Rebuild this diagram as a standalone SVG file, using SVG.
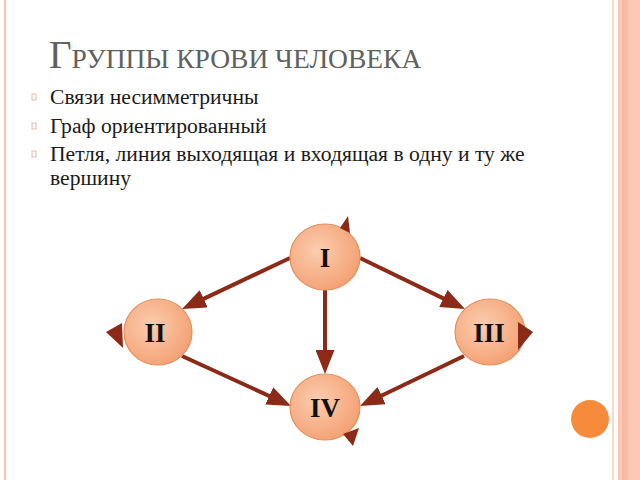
<svg xmlns="http://www.w3.org/2000/svg" width="640" height="480" viewBox="0 0 640 480">
<defs>
<style>
.title{font-family:"Liberation Serif","Times New Roman",serif;fill:#606060}
.bul{font-family:"Liberation Serif","Times New Roman",serif;font-size:21.6px;fill:#1a1a1a}
.box{fill:none;stroke:#d8aaa0;stroke-width:0.8}
.node{fill:url(#ng);stroke:#e0915f;stroke-width:1.2}
.lbl{font-family:"Liberation Serif","Times New Roman",serif;font-size:27px;font-weight:bold;fill:#111;text-anchor:middle}
.edge{stroke:#8b2a16;stroke-width:4;fill:none;marker-end:url(#ah)}
.loop{fill:#8b2a16}
</style>
<radialGradient id="ng" cx="0.4" cy="0.4" r="0.65">
<stop offset="0" stop-color="#fbcdb0"/>
<stop offset="1" stop-color="#f4a072"/>
</radialGradient>
<marker id="ah" viewBox="0 0 24 19" refX="9" refY="9.5" markerWidth="24" markerHeight="19" markerUnits="userSpaceOnUse" orient="auto">
<path d="M0,0 L24,9.5 L0,19 z" fill="#8b2a16"/>
</marker>
</defs>
<rect width="640" height="480" fill="#ffffff"/>
<g id="frame">
<line x1="5" y1="0" x2="5" y2="480" stroke="#f6c6b6" stroke-width="2.5"/>
<line x1="613" y1="0" x2="613" y2="480" stroke="#f9cbbd" stroke-width="1.5"/>
<rect x="618" y="0" width="22" height="480" fill="#fcc8b5"/>
<rect x="622" y="0" width="6" height="480" fill="#f9baa2"/>
<circle cx="590" cy="419" r="19" fill="#f68b3c"/>
</g>
<g id="title">
<text class="title" x="49" y="68"><tspan font-size="39">Г</tspan><tspan font-size="27.5">РУППЫ КРОВИ ЧЕЛОВЕКА</tspan></text>
</g>
<g id="bullets">
<rect class="box" x="32" y="94" width="4" height="6"/>
<rect class="box" x="32" y="123" width="4" height="6"/>
<rect class="box" x="32" y="151" width="4" height="6"/>
<text class="bul" x="50" y="104">Связи несимметричны</text>
<text class="bul" x="50" y="133">Граф ориентированный</text>
<text class="bul" x="50" y="161">Петля, линия выходящая и входящая в одну и ту же</text>
<text class="bul" x="50" y="185">вершину</text>
</g>
<g id="connectors">
<line class="edge" x1="290" y1="258" x2="195.6" y2="302.6"/>
<line class="edge" x1="360" y1="258" x2="451.5" y2="302.4"/>
<line class="edge" x1="325" y1="290" x2="325" y2="359"/>
<line class="edge" x1="182" y1="356" x2="277.4" y2="399.7"/>
<line class="edge" x1="464" y1="356" x2="373.5" y2="399.5"/>
</g>
<g id="node-I">
<ellipse class="node" cx="325" cy="257" rx="35" ry="33"/>
<text class="lbl" x="325" y="267">I</text>
<polygon class="loop" points="348,216 340,228 350,233"/>
</g>
<g id="node-II">
<ellipse class="node" cx="158" cy="332" rx="34" ry="33"/>
<text class="lbl" x="155" y="342">II</text>
<polygon class="loop" points="106,332 122,323 123,348"/>
</g>
<g id="node-III">
<ellipse class="node" cx="490" cy="332" rx="35" ry="33"/>
<text class="lbl" x="489" y="342">III</text>
<polygon class="loop" points="533,332 518,322 518,350"/>
</g>
<g id="node-IV">
<ellipse class="node" cx="325" cy="407" rx="35" ry="33"/>
<text class="lbl" x="325" y="417">IV</text>
<polygon class="loop" points="353,446 343,434 359,428"/>
</g>
</svg>
